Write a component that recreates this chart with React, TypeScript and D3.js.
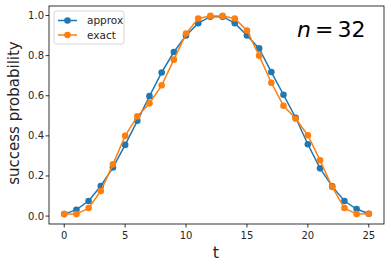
import * as React from 'react';
import * as d3 from 'd3';

const steps = d3.range(0, 26);
const approx = [0.01, 0.032, 0.075, 0.15, 0.242, 0.355, 0.475, 0.598, 0.716, 0.818, 0.9, 0.962, 0.994,
  0.994, 0.962, 0.9, 0.836, 0.718, 0.605, 0.49, 0.358, 0.238, 0.148, 0.075, 0.035, 0.012];
const exact = [0.01, 0.01, 0.04, 0.125, 0.258, 0.4, 0.497, 0.562, 0.652, 0.78, 0.91, 0.985, 0.998,
  0.998, 0.985, 0.925, 0.8, 0.665, 0.55, 0.485, 0.403, 0.278, 0.145, 0.04, 0.01, 0.012];
const xTicks = [0, 5, 10, 15, 20, 25];
const yTicks = [0, 0.2, 0.4, 0.6, 0.8, 1.0];
const seriesNames = ['approx', 'exact'];
const colors = ['#1f77b4', '#ff7f0e'];

const W = 391;
const H = 267;
const plot = { left: 49, right: 384, top: 6, bottom: 224 };
const font = 'DejaVu Sans, sans-serif';

export default function App() {
  const x = React.useMemo(() => {
    const [lo, hi] = d3.extent(steps) as [number, number];
    const pad = (hi - lo) * 0.05;
    return d3.scaleLinear().domain([lo - pad, hi + pad]).range([plot.left, plot.right]);
  }, []);
  const y = React.useMemo(() => {
    const all = approx.concat(exact);
    const lo = d3.min(all) as number;
    const hi = d3.max(all) as number;
    const pad = (hi - lo) * 0.05;
    return d3.scaleLinear().domain([lo - pad, hi + pad]).range([plot.bottom, plot.top]);
  }, []);

  const line = d3
    .line<number>()
    .x((_, i) => x(steps[i]))
    .y((d) => y(d));

  const series = [approx, exact];

  return (
    <svg width={W} height={H} style={{ position: 'absolute', left: 0, top: 0 }} fontFamily={font}>
      <rect width={W} height={H} fill="white" />
      {series.map((s, k) => (
        <g key={k}>
          <path d={line(s) || ''} fill="none" stroke={colors[k]} strokeWidth={1.5} />
          {s.map((v, i) => (
            <circle key={i} cx={x(steps[i])} cy={y(v)} r={3.3} fill={colors[k]} />
          ))}
        </g>
      ))}
      <rect
        x={plot.left}
        y={plot.top}
        width={plot.right - plot.left}
        height={plot.bottom - plot.top}
        fill="none"
        stroke="black"
        strokeWidth={0.8}
      />
      {xTicks.map((t) => (
        <g key={t}>
          <line x1={x(t)} x2={x(t)} y1={plot.bottom} y2={plot.bottom + 3.5} stroke="black" strokeWidth={0.8} />
          <text x={x(t)} y={plot.bottom + 15} fontSize={10} textAnchor="middle" fill="#262626">
            {t}
          </text>
        </g>
      ))}
      {yTicks.map((t) => (
        <g key={t}>
          <line x1={plot.left - 3.5} x2={plot.left} y1={y(t)} y2={y(t)} stroke="black" strokeWidth={0.8} />
          <text x={plot.left - 5} y={y(t) + 3.5} fontSize={10} textAnchor="end" fill="#262626">
            {t.toFixed(1)}
          </text>
        </g>
      ))}
      <text x={216} y={258} fontSize={16} textAnchor="middle" fill="#262626">
        t
      </text>
      <text
        transform={`translate(19,${(plot.top + plot.bottom) / 2 - 2}) rotate(-90)`}
        fontSize={15}
        textAnchor="middle"
        fill="#262626"
      >
        success probability
      </text>
      <text x={297} y={37} fontSize={22} fill="black">
        <tspan fontStyle="italic">n</tspan>
        <tspan dx={4}>=</tspan>
        <tspan dx={4}>32</tspan>
      </text>
      <g>
        <rect x={54} y={11} width={70} height={33} rx={2.5} fill="white" fillOpacity={0.8} stroke="#cccccc" strokeWidth={0.8} />
        {seriesNames.map((name, k) => (
          <g key={name} transform={`translate(0,${20.5 + k * 14.5})`}>
            <line x1={58} x2={77} y1={0} y2={0} stroke={colors[k]} strokeWidth={1.5} />
            <circle cx={67.5} cy={0} r={3.3} fill={colors[k]} />
            <text x={87} y={3.5} fontSize={10.5} fill="#262626">
              {name}
            </text>
          </g>
        ))}
      </g>
    </svg>
  );
}
